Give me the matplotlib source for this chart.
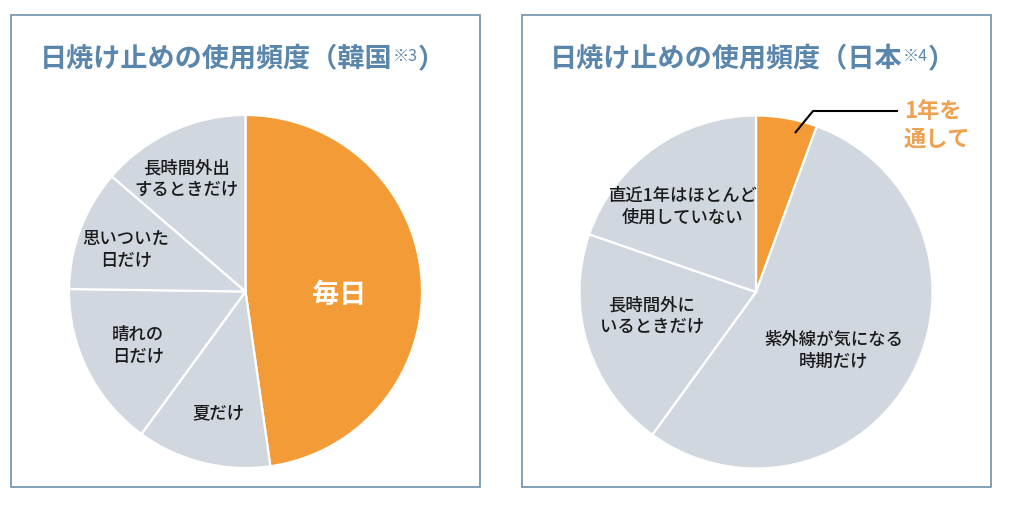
import matplotlib
matplotlib.use("Agg")
import matplotlib.pyplot as plt
from matplotlib.patches import Rectangle

plt.rcParams['font.family'] = ['Noto Sans CJK JP', 'DejaVu Sans']

# ---- data ----
kr_labels = ["毎日", "夏だけ", "晴れの\n日だけ", "思いついた\n日だけ", "長時間外出\nするときだけ"]
kr_values = [47.8, 12.3, 15.2, 11.1, 13.7]
jp_labels = ["1年を\n通して", "紫外線が気になる\n時期だけ", "長時間外に\nいるときだけ", "直近1年はほとんど\n使用していない"]
jp_values = [5.6, 54.4, 20.3, 19.7]
kr_title = ["日焼け止めの使用頻度（韓国", "※3", "）"]
jp_title = ["日焼け止めの使用頻度（日本", "※4", "）"]

ORANGE = "#F39B37"
GREY = "#D1D7DF"
TITLE_C = "#5A86AC"
BORDER_C = "#6F8FA9"
LABEL_ORANGE = "#EFA152"

W, H = 1014, 514
fig = plt.figure(figsize=(W / 100, H / 100), dpi=100)
ax = fig.add_axes([0, 0, 1, 1])


def py(y):
    return H - y


kr_colors = [ORANGE] + [GREY] * (len(kr_values) - 1)
jp_colors = [ORANGE] + [GREY] * (len(jp_values) - 1)
wp = dict(edgecolor="white", linewidth=1.6)

ax.pie(kr_values, colors=kr_colors, startangle=90, counterclock=False,
       center=(245.5, py(291.5)), radius=176.5, wedgeprops=wp, frame=True)
ax.pie(jp_values, colors=jp_colors, startangle=90, counterclock=False,
       center=(756, py(292)), radius=176.5, wedgeprops=wp, frame=True)

ax.set_xlim(0, W)
ax.set_ylim(0, H)
ax.set_aspect("auto")
ax.set_axis_off()

# panel borders
for x0, x1 in [(11, 480), (522, 991)]:
    ax.add_patch(Rectangle((x0, py(487)), x1 - x0, 487 - 15, fill=False,
                           edgecolor=BORDER_C, linewidth=1.2))

# titles
for x0, parts in [(40, kr_title), (550, jp_title)]:
    t1 = ax.text(x0, py(59), parts[0], fontsize=19.5, fontweight="bold",
                 color=TITLE_C, ha="left", va="center")
    t2 = ax.annotate(parts[1], xy=(1, 0.88), xycoords=t1, ha="left", va="top",
                     fontsize=11.5, color=TITLE_C)
    ax.annotate(parts[2], xy=(1, 0), xycoords=(t2, t1), ha="left", va="bottom",
                fontsize=19.5, fontweight="bold", color=TITLE_C)

# slice labels (layout positions in pixels)
kr_pos = [(339, 295), (218, 413), (138, 346), (126, 250), (187, 179)]
for i, (lab, (x, y)) in enumerate(zip(kr_labels, kr_pos)):
    if i == 0:
        ax.text(x, py(y), lab, fontsize=19.5, fontweight="bold", color="white",
                ha="center", va="center")
    else:
        ax.text(x, py(y), lab, fontsize=12.5, fontweight="medium",
                color="#1a1a1a", ha="center", va="center", linespacing=1.25)

jp_pos = [None, (834, 351), (652, 316), (683, 207)]
for lab, pos in zip(jp_labels[1:], jp_pos[1:]):
    ax.text(pos[0], py(pos[1]), lab, fontsize=12.5, fontweight="medium",
            color="#1a1a1a", ha="center", va="center", linespacing=1.25)

# callout for the small slice
ax.plot([795, 813, 898], [py(133), py(111), py(111)], color="black", lw=1.5,
        solid_capstyle="butt")
ax.text(904, py(125.5), jp_labels[0], fontsize=16, fontweight="bold",
        color=LABEL_ORANGE, ha="left", va="center", linespacing=1.25)

fig.savefig("out.png", dpi=100, facecolor="white")
